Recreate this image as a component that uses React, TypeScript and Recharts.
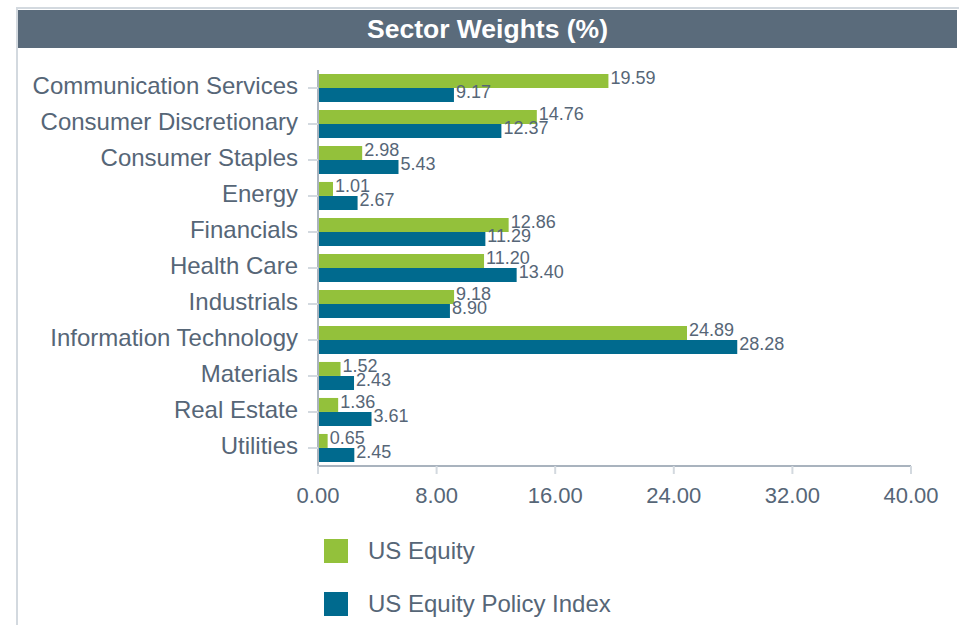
import { Bar, BarChart, LabelList, Legend, XAxis, YAxis } from "recharts";

const sectors = [
  "Communication Services",
  "Consumer Discretionary",
  "Consumer Staples",
  "Energy",
  "Financials",
  "Health Care",
  "Industrials",
  "Information Technology",
  "Materials",
  "Real Estate",
  "Utilities"
];

const usEquity = [19.59, 14.76, 2.98, 1.01, 12.86, 11.2, 9.18, 24.89, 1.52, 1.36, 0.65];
const policyIndex = [9.17, 12.37, 5.43, 2.67, 11.29, 13.4, 8.9, 28.28, 2.43, 3.61, 2.45];
const xTicks = [0, 8, 16, 24, 32, 40];

const GREEN = "#93c13b";
const BLUE = "#006a8e";
const TEXT = "#566677";

const data = sectors.map((name, i) => ({
  name,
  usEquity: usEquity[i],
  policy: policyIndex[i]
}));

const legendItems = [
  { label: "US Equity", color: GREEN },
  { label: "US Equity Policy Index", color: BLUE }
];

function LegendContent() {
  return (
    <div>
      {legendItems.map((item) => (
        <div key={item.label} style={{ display: "flex", alignItems: "center", height: 53 }}>
          <span style={{ width: 24, height: 24, background: item.color, display: "inline-block" }} />
          <span style={{ marginLeft: 20, fontSize: 24, color: TEXT }}>{item.label}</span>
        </div>
      ))}
    </div>
  );
}

// y labels sit a touch above the tick in the original
function SectorTick(props: any) {
  const { x, y, payload } = props;
  return (
    <text x={x} y={y - 2} dy="0.35em" textAnchor="end" fontSize={24} fill={TEXT}>
      {payload.value}
    </text>
  );
}

function ValueLabel(props: any) {
  const { x, y, width, height, value } = props;
  return (
    <text
      x={Number(x) + Number(width) + 2}
      y={Number(y) + Number(height) / 2 - 3}
      dy="0.35em"
      textAnchor="start"
      fontSize={18}
      fill={TEXT}
    >
      {Number(value).toFixed(2)}
    </text>
  );
}

export default function App() {
  return (
    <div
      style={{
        position: "absolute",
        left: 0,
        top: 0,
        width: 959,
        height: 625,
        overflow: "hidden",
        background: "#fff",
        fontFamily: "'Liberation Sans', Arial, sans-serif"
      }}
    >
      <div
        style={{
          position: "absolute",
          left: 16,
          top: 7,
          width: 960,
          height: 640,
          borderLeft: "2px solid #d3d9df",
          borderTop: "2px solid #d3d9df"
        }}
      />
      <div
        style={{
          position: "absolute",
          left: 18,
          top: 10,
          width: 939,
          height: 38,
          background: "#5a6b7b",
          color: "#fff",
          fontWeight: "bold",
          fontSize: 26.5,
          lineHeight: "38px",
          textAlign: "center"
        }}
      >
        Sector Weights (%)
      </div>
      <div style={{ position: "absolute", left: 0, top: 0 }}>
        <BarChart
          width={959}
          height={625}
          data={data}
          layout="vertical"
          margin={{ top: 70, right: 48, bottom: 119, left: 0 }}
          barCategoryGap="11%"
          barGap={0}
        >
          <XAxis
            type="number"
            domain={[0, 40]}
            ticks={xTicks}
            tickFormatter={(v) => Number(v).toFixed(2)}
            height={40}
            tickSize={8}
            tickMargin={13}
            axisLine={{ stroke: "#a9b3be", strokeWidth: 2 }}
            tickLine={{ stroke: "#d3d9df", strokeWidth: 2 }}
            tick={{ fontSize: 22, fill: TEXT }}
            interval={0}
          />
          <YAxis
            type="category"
            dataKey="name"
            width={318}
            tickSize={10}
            tickMargin={10}
            axisLine={{ stroke: "#a9b3be", strokeWidth: 2 }}
            tickLine={{ stroke: "#d3d9df", strokeWidth: 2 }}
            tick={<SectorTick />}
            interval={0}
          />
          <Legend
            layout="vertical"
            verticalAlign="middle"
            align="center"
            content={<LegendContent />}
            wrapperStyle={{ left: 324, top: 524, width: 400, height: 110 }}
          />
          <Bar dataKey="usEquity" name="US Equity" fill={GREEN} isAnimationActive={false}>
            <LabelList dataKey="usEquity" content={<ValueLabel />} />
          </Bar>
          <Bar dataKey="policy" name="US Equity Policy Index" fill={BLUE} isAnimationActive={false}>
            <LabelList dataKey="policy" content={<ValueLabel />} />
          </Bar>
        </BarChart>
      </div>
    </div>
  );
}
